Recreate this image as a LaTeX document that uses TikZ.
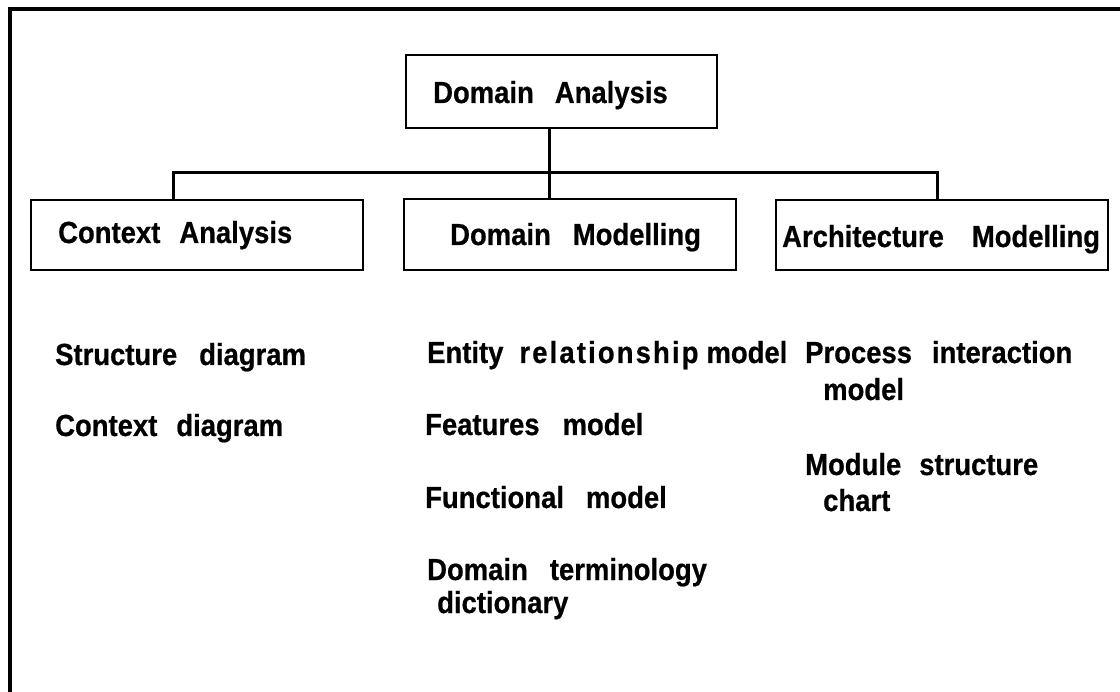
\documentclass[tikz,border=0pt]{standalone}
\usepackage{fontspec}
\setmainfont{Liberation Sans}[FakeStretch=0.9]
\newcommand{\gp}[1]{\hspace{#1pt}}
\begin{document}
\begin{tikzpicture}[x=1pt,y=-1pt,
  box/.style={draw, line width=2pt, inner sep=0pt, anchor=north west},
  lbl/.style={anchor=base west, inner sep=0pt, font=\fontsize{30.5}{36}\selectfont\bfseries\addfontfeature{FakeBold=0.6}},
  conn/.style={line width=3pt},
  outerframe/.style={line width=4pt}]
\useasboundingbox (0,0) rectangle (1120,692);
\draw[outerframe] (10,692) -- (10,9) -- (1120,9);
% boxes
\node[box, minimum width=311pt, minimum height=73pt] (da) at (405,54) {};
\node[box, minimum width=332pt, minimum height=70pt] (ca) at (30,199) {};
\node[box, minimum width=332pt, minimum height=71pt] (dm) at (403,198) {};
\node[box, minimum width=332pt, minimum height=70pt] (am) at (775,199) {};
% connectors
\coordinate (jc) at (549,173);
\coordinate (jl) at (173,173);
\coordinate (jr) at (937,173);
\draw[conn] (jc |- da.south) -- (jc |- dm.north);
\draw[conn] (jl |- ca.north) -- (jl) -- (jr) -- (jr |- am.north);
% box texts
\node[lbl] (tda) at (433,103) {Domain\gp{21}Analysis};
\node[lbl] (tca) at (58,243) {Context\gp{19}Analysis};
\node[lbl] (tdm) at (450,245) {Domain\gp{22}Modelling};
\node[lbl] (tam) at (782,247) {Architecture\gp{28}Modelling};
% lists
\node[lbl] (s1) at (55,365) {Structure\gp{22}diagram};
\node[lbl] (s2) at (55,436) {Context\gp{19}diagram};
\node[lbl] (m1) at (427,363) {Entity\gp{16}{\addfontfeature{LetterSpace=7}relationship}\gp{8}model};
\node[lbl] (m2) at (425,435) {Features\gp{23}model};
\node[lbl] (m3) at (425,508) {Functional\gp{22}model};
\node[lbl] (m4) at (427,580) {Domain\gp{22}terminology};
\node[lbl] (m4b) at (437,613) {dictionary};
\node[lbl] (a1) at (805,363) {Process\gp{20}interaction};
\node[lbl] (a1b) at (823,400) {model};
\node[lbl] (a2) at (805,475) {Module\gp{18}structure};
\node[lbl] (a2b) at (823,511) {chart};
\end{tikzpicture}
\end{document}
